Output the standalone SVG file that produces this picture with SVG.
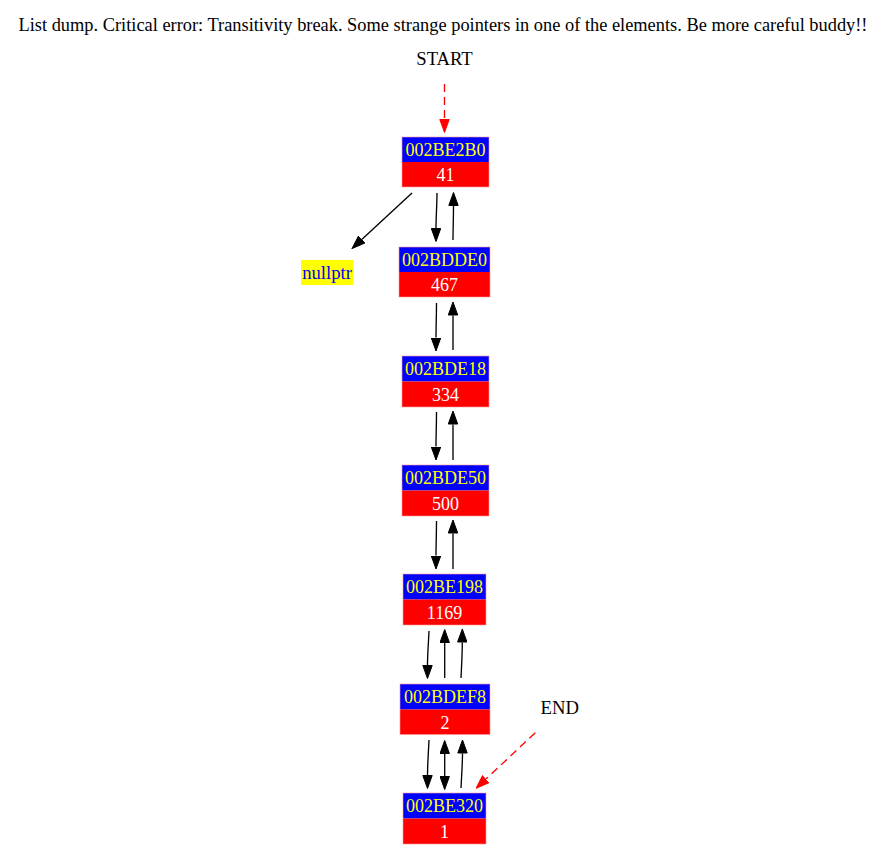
<svg xmlns="http://www.w3.org/2000/svg" width="887" height="855" viewBox="0 0 887 855">
<defs>
<style>
text{font-family:"Liberation Serif","Times New Roman",serif;font-size:18.67px;text-anchor:middle}
.addr,.val{font-size:18px}
.addr{fill:#ffff00}
.val{fill:#ffffff}
.hdr{fill:#0000ff}
.body{fill:#ff0000}
.frame{fill:none;stroke:#ff9a9a;stroke-width:1;stroke-opacity:0.6}
.e{fill:none;stroke:#000;stroke-width:1.33}
.d{fill:none;stroke:#ff0000;stroke-width:1.33;stroke-dasharray:8,5}
</style>
<marker id="ab" viewBox="0 0 14 10.4" refX="0" refY="5.2" markerWidth="14" markerHeight="10.4" markerUnits="userSpaceOnUse" orient="auto-start-reverse">
<path d="M0.5,0.5 L13.5,5.2 L0.5,9.9 z" fill="#000" stroke="#000" stroke-width="1"/>
</marker>
<marker id="ar" viewBox="0 0 14 10.4" refX="0" refY="5.2" markerWidth="14" markerHeight="10.4" markerUnits="userSpaceOnUse" orient="auto">
<path d="M0.5,0.5 L13.5,5.2 L0.5,9.9 z" fill="#ff0000" stroke="#ff0000" stroke-width="1"/>
</marker>
</defs>
<rect width="887" height="855" fill="#ffffff"/>
<text id="title" x="443" y="31" textLength="849" lengthAdjust="spacingAndGlyphs" fill="#000">List dump. Critical error: Transitivity break. Some strange pointers in one of the elements. Be more careful buddy!!</text>

<g id="START"><text x="444.5" y="65" fill="#000">START</text></g>
<g id="END"><text x="559.7" y="714" fill="#000">END</text></g>

<g id="nullptr">
<rect x="301" y="260" width="52.5" height="25" fill="#ffff00"/>
<text x="327" y="278.5" fill="#0000ff">nullptr</text>
</g>

<g id="n002BE2B0">
<rect class="hdr" x="402" y="137" width="87" height="25"/>
<rect class="body" x="402" y="162" width="87" height="25"/>
<rect class="frame" x="402" y="137" width="87" height="50"/>
<text class="addr" x="445.5" y="156">002BE2B0</text>
<text class="val" x="445.5" y="181">41</text>
</g>
<g id="n002BDDE0">
<rect class="hdr" x="399" y="247" width="91" height="25"/>
<rect class="body" x="399" y="272" width="91" height="25"/>
<rect class="frame" x="399" y="247" width="91" height="50"/>
<text class="addr" x="444.5" y="266">002BDDE0</text>
<text class="val" x="444.5" y="291">467</text>
</g>
<g id="n002BDE18">
<rect class="hdr" x="402" y="356" width="87" height="25.5"/>
<rect class="body" x="402" y="381.5" width="87" height="25.5"/>
<rect class="frame" x="402" y="356" width="87" height="51"/>
<text class="addr" x="445.5" y="375">002BDE18</text>
<text class="val" x="445.5" y="400.5">334</text>
</g>
<g id="n002BDE50">
<rect class="hdr" x="402" y="465" width="87" height="25.5"/>
<rect class="body" x="402" y="490.5" width="87" height="25.5"/>
<rect class="frame" x="402" y="465" width="87" height="51"/>
<text class="addr" x="445.5" y="484">002BDE50</text>
<text class="val" x="445.5" y="509.5">500</text>
</g>
<g id="n002BE198">
<rect class="hdr" x="403" y="574" width="83" height="25.5"/>
<rect class="body" x="403" y="599.5" width="83" height="25.5"/>
<rect class="frame" x="403" y="574" width="83" height="51"/>
<text class="addr" x="444.5" y="593">002BE198</text>
<text class="val" x="444.5" y="618.5">1169</text>
</g>
<g id="n002BDEF8">
<rect class="hdr" x="400" y="684" width="90" height="25.5"/>
<rect class="body" x="400" y="709.5" width="90" height="25"/>
<rect class="frame" x="400" y="684" width="90" height="50.5"/>
<text class="addr" x="445" y="703">002BDEF8</text>
<text class="val" x="445" y="728.5">2</text>
</g>
<g id="n002BE320">
<rect class="hdr" x="403" y="793" width="83" height="25.5"/>
<rect class="body" x="403" y="818.5" width="83" height="25.5"/>
<rect class="frame" x="403" y="793" width="83" height="51"/>
<text class="addr" x="444.5" y="812">002BE320</text>
<text class="val" x="444.5" y="837.5">1</text>
</g>

<g id="connectors">
<path class="d" d="M444.5,84 L444.5,119" marker-end="url(#ar)"/>
<path class="d" d="M535.3,732.7 L486,779" marker-end="url(#ar)"/>
<path class="e" d="M412,193 L362,239.3" marker-end="url(#ab)"/>

<path class="e" d="M437,193 C437,205 436,216 436,228" marker-end="url(#ab)"/>
<path class="e" d="M453,240 C453,230 453.5,218 453.5,206" marker-end="url(#ab)"/>

<path class="e" d="M436.5,303 C436.5,315 436,326 436,337.5" marker-end="url(#ab)"/>
<path class="e" d="M453,350 C453,340 453,327 453,315.5" marker-end="url(#ab)"/>

<path class="e" d="M436.5,412 C436.5,424 436,435 436,446.5" marker-end="url(#ab)"/>
<path class="e" d="M453,460 C453,450 453,436 453,424.5" marker-end="url(#ab)"/>

<path class="e" d="M436.5,521 C436.5,533 436,544 436,555.5" marker-end="url(#ab)"/>
<path class="e" d="M453,569 C453,559 453,545 453,533.5" marker-end="url(#ab)"/>

<path class="e" d="M429,631 C428.5,643 427.5,654 427.5,665" marker-end="url(#ab)"/>
<path class="e" d="M444.7,678 L444.7,643" marker-end="url(#ab)"/>
<path class="e" d="M461,678 C461.5,667 462.3,655 462.3,642.5" marker-end="url(#ab)"/>

<path class="e" d="M429,740 C428.5,752 427.5,764 427.5,775" marker-end="url(#ab)"/>
<path class="e" d="M444.7,754 L444.7,776" marker-start="url(#ab)" marker-end="url(#ab)"/>
<path class="e" d="M461,788 C461.5,777 462.5,765 462.5,753.5" marker-end="url(#ab)"/>
</g>
</svg>
